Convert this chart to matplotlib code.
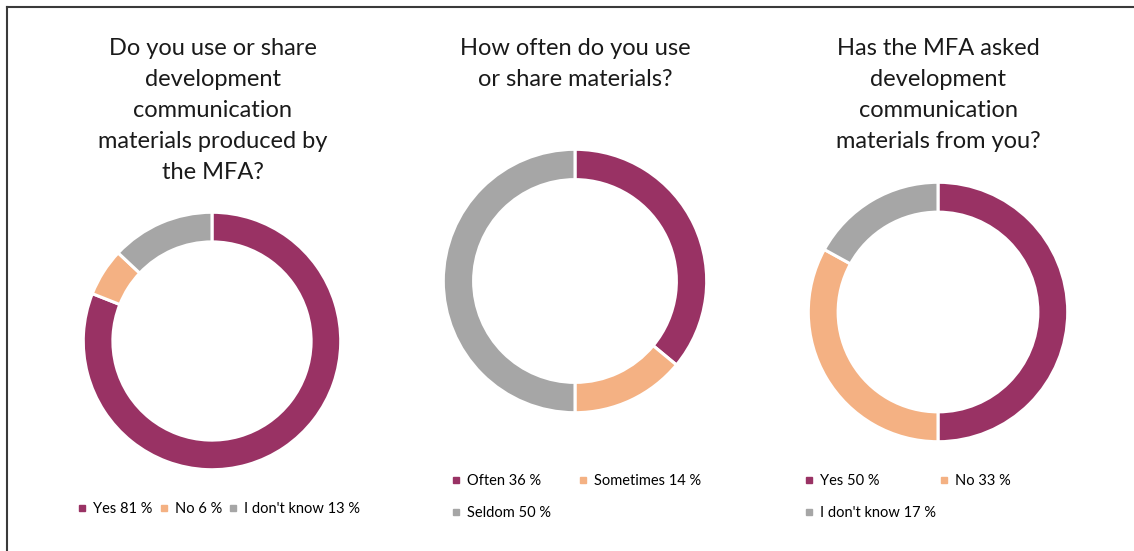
"""
Donut charts: use and sharing of MFA development communication materials
"""

import matplotlib.pyplot as plt
from matplotlib.lines import Line2D

plt.rcParams['font.family'] = ['Lato', 'DejaVu Sans']

PURPLE = '#993264'
ORANGE = '#F4B183'
GREY = '#A6A6A6'

# survey answers, percent
use_labels = ['Yes', 'No', "I don't know"]
use_values = [81, 6, 13]

freq_labels = ['Often', 'Sometimes', 'Seldom']
freq_values = [36, 14, 50]

asked_labels = ['Yes', 'No', "I don't know"]
asked_values = [50, 33, 17]

titles = [
    'Do you use or share\ndevelopment\ncommunication\nmaterials produced by\nthe MFA?',
    'How often do you use\nor share materials?',
    'Has the MFA asked\ndevelopment\ncommunication\nmaterials from you?',
]

W, H = 1134, 551
COLORS = [PURPLE, ORANGE, GREY]


def px_axes(fig, cx, cy, r):
    """Axes box in pixel coords (origin top-left) around a donut"""
    return fig.add_axes([(cx - r) / W, (H - cy - r) / H, 2 * r / W, 2 * r / H])


def donut(ax, values):
    ax.pie(values, colors=COLORS, startangle=90, counterclock=False,
           radius=1.0, wedgeprops=dict(width=0.23, edgecolor='white', linewidth=2.2))
    ax.set_xlim(-1.01, 1.01)
    ax.set_ylim(-1.01, 1.01)
    ax.set_aspect('equal')
    ax.axis('off')


def legend(fig, labels, values, x, y, ncol, colspacing):
    handles = [Line2D([], [], marker='s', linestyle='none', markersize=5,
                      color=c) for c in COLORS]
    texts = [f'{l} {v} %' for l, v in zip(labels, values)]
    order = [0, 1, 2] if ncol == 3 else [0, 2, 1]  # fill rows first
    fig.legend([handles[i] for i in order], [texts[i] for i in order],
               loc='upper left', bbox_to_anchor=(x / W, 1 - y / H),
               ncol=ncol, frameon=False, fontsize=10.5, handlelength=0.6,
               handletextpad=0.45, columnspacing=colspacing, labelspacing=1.25,
               borderaxespad=0, borderpad=0)


fig = plt.figure(figsize=(W / 100, H / 100), dpi=100)

donut(px_axes(fig, 212, 341, 130), use_values)
donut(px_axes(fig, 575, 281, 133), freq_values)
donut(px_axes(fig, 938, 312, 131), asked_values)

for cx, title in zip([213, 575, 938], titles):
    fig.text(cx / W, 1 - 38 / H, title, ha='center', va='top', fontsize=17,
             linespacing=1.59, color='#1a1a1a')

legend(fig, use_labels, use_values, 78, 502, 3, 0.45)
legend(fig, freq_labels, freq_values, 452, 474, 2, 1.9)
legend(fig, asked_labels, asked_values, 805, 474, 2, 0.25)

# frame lines along top and left edges
fig.add_artist(Line2D([7 / W, 1], [1 - 7 / H, 1 - 7 / H], color='#3a3a3a', linewidth=1.5))
fig.add_artist(Line2D([7 / W, 7 / W], [0, 1 - 7 / H], color='#3a3a3a', linewidth=1.5))

fig.savefig('out.png', dpi=100, facecolor='white')
